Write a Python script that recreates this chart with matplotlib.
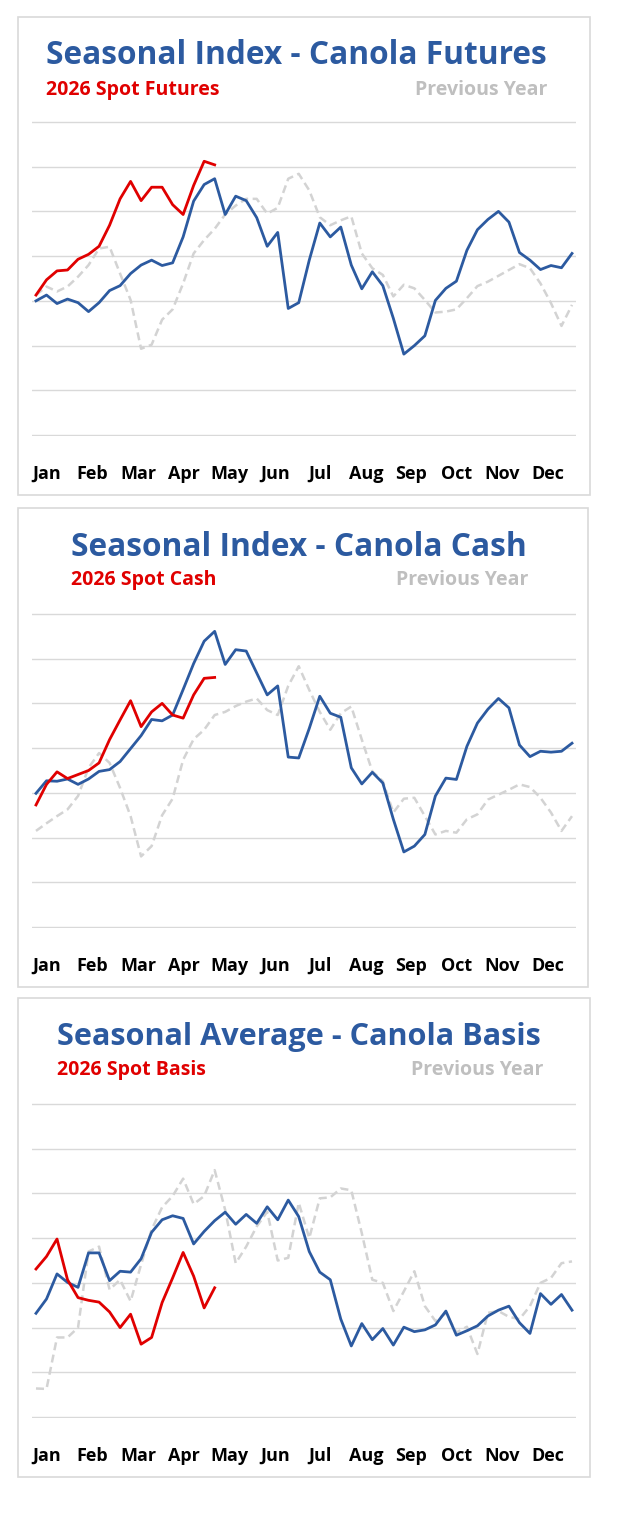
import numpy as np
import matplotlib
matplotlib.use("Agg")
import matplotlib.pyplot as plt
from matplotlib.patches import Rectangle

plt.rcParams['font.family'] = ['Open Sans', 'DejaVu Sans']

months = ['Jan', 'Feb', 'Mar', 'Apr', 'May', 'Jun', 'Jul', 'Aug', 'Sep', 'Oct', 'Nov', 'Dec']

# weekly values, in gridline units (bottom gridline = 0, top = 7)
fut_avg = [3.00, 3.13, 2.94, 3.04, 2.96, 2.76, 2.96, 3.23, 3.34, 3.61, 3.80, 3.91, 3.79,
           3.85, 4.43, 5.23, 5.60, 5.73, 4.93, 5.34, 5.24, 4.86, 4.22, 4.53, 2.83, 2.96,
           3.91, 4.74, 4.43, 4.65, 3.80, 3.27, 3.65, 3.34, 2.61, 1.81, 2.00, 2.22, 3.01,
           3.28, 3.44, 4.13, 4.59, 4.82, 5.00, 4.76, 4.08, 3.91, 3.70, 3.79, 3.74, 4.06]
fut_spot = [3.13, 3.47, 3.67, 3.69, 3.93, 4.04, 4.22, 4.69, 5.28, 5.67, 5.24, 5.54, 5.54,
            5.15, 4.93, 5.58, 6.12, 6.04]
fut_prev = [3.13, 3.32, 3.21, 3.32, 3.54, 3.80, 4.17, 4.21, 3.61, 3.02, 1.93, 2.02, 2.58,
            2.81, 3.39, 4.06, 4.36, 4.61, 4.93, 5.13, 5.28, 5.28, 4.95, 5.08, 5.73, 5.84,
            5.47, 4.87, 4.69, 4.80, 4.89, 4.06, 3.73, 3.58, 3.10, 3.36, 3.28, 3.02, 2.74,
            2.76, 2.81, 3.06, 3.33, 3.43, 3.56, 3.69, 3.82, 3.73, 3.39, 2.95, 2.44, 2.91]

cash_avg = [2.99, 3.27, 3.26, 3.31, 3.19, 3.31, 3.48, 3.52, 3.70, 3.99, 4.28, 4.64, 4.61,
            4.74, 5.31, 5.89, 6.39, 6.61, 5.87, 6.20, 6.17, 5.68, 5.19, 5.39, 3.80, 3.78,
            4.44, 5.16, 4.78, 4.69, 3.56, 3.20, 3.46, 3.22, 2.41, 1.68, 1.81, 2.07, 2.93,
            3.33, 3.30, 4.04, 4.56, 4.87, 5.11, 4.90, 4.07, 3.81, 3.93, 3.91, 3.93, 4.11]
cash_spot = [2.73, 3.19, 3.47, 3.32, 3.41, 3.50, 3.67, 4.19, 4.63, 5.06, 4.48, 4.81, 5.00,
             4.74, 4.67, 5.19, 5.56, 5.58]
cash_prev = [2.15, 2.32, 2.48, 2.63, 2.93, 3.56, 3.89, 3.67, 3.11, 2.48, 1.58, 1.81, 2.50,
             2.87, 3.74, 4.20, 4.41, 4.74, 4.81, 4.94, 5.04, 5.11, 4.85, 4.74, 5.39, 5.83,
             5.30, 4.81, 4.41, 4.78, 4.93, 4.19, 3.48, 3.26, 2.56, 2.87, 2.89, 2.48, 2.07,
             2.15, 2.11, 2.41, 2.52, 2.85, 2.96, 3.07, 3.19, 3.13, 2.89, 2.56, 2.15, 2.48]

basis_avg = [2.32, 2.64, 3.20, 3.01, 2.90, 3.67, 3.67, 3.05, 3.26, 3.24, 3.54, 4.13, 4.41,
             4.50, 4.44, 3.87, 4.15, 4.39, 4.58, 4.31, 4.53, 4.33, 4.70, 4.41, 4.85, 4.48,
             3.70, 3.24, 3.07, 2.19, 1.59, 2.09, 1.73, 1.98, 1.61, 2.01, 1.91, 1.95, 2.06,
             2.37, 1.83, 1.93, 2.04, 2.26, 2.39, 2.48, 2.11, 1.87, 2.76, 2.52, 2.74, 2.39]
basis_spot = [3.31, 3.59, 3.98, 3.07, 2.67, 2.61, 2.57, 2.35, 2.00, 2.30, 1.63, 1.78, 2.56,
              3.11, 3.68, 3.15, 2.44, 2.89]
basis_prev = [0.64, 0.63, 1.78, 1.78, 2.00, 3.70, 3.81, 2.85, 3.07, 2.59, 3.41, 4.19, 4.69,
              4.94, 5.33, 4.76, 4.94, 5.52, 4.63, 3.44, 3.81, 4.26, 4.59, 3.50, 3.56, 4.79,
              4.00, 4.89, 4.91, 5.11, 5.07, 4.11, 3.07, 3.00, 2.37, 2.81, 3.26, 2.48, 2.15,
              2.32, 1.89, 2.02, 1.41, 2.33, 2.37, 2.24, 2.19, 2.48, 3.00, 3.11, 3.44, 3.48]

panels = [
    ("Seasonal Index - Canola Futures", "2026 Spot Futures", fut_avg, fut_spot, fut_prev),
    ("Seasonal Index - Canola Cash", "2026 Spot Cash", cash_avg, cash_spot, cash_prev),
    ("Seasonal Average - Canola Basis", "2026 Spot Basis", basis_avg, basis_spot, basis_prev),
]

# layout in pixels: box (x0, y0, x1, y1), grid top, title x, title right, title y, sub y, title size
layout = [
    ((18, 17, 590, 495), 121, 46, 547, 56, 90, 22.8),
    ((18, 508, 588, 987), 613, 71, 528, 547, 580, 22.8),
    ((18, 998, 590, 1477), 1103, 57, 543, 1037, 1070, 22.1),
]

W, H = 618, 1516
BLUE = '#2c5aa0'
RED = '#e00000'
GREY = '#d3d3d3'

fig = plt.figure(figsize=(W / 100, H / 100), dpi=100)

for (title, sub, avg, spot, prev), (box, gtop, tx, tr, ty, sy, tsize) in zip(panels, layout):
    x0, y0, x1, y1 = box
    fig.patches.append(Rectangle((x0 / W, 1 - y1 / H), (x1 - x0) / W, (y1 - y0) / H,
                                 transform=fig.transFigure, facecolor='white',
                                 edgecolor='#d9d9d9', linewidth=1.2, zorder=-5))
    ax = fig.add_axes([32 / W, 1 - (gtop + 315) / H, 544 / W, 315 / H])
    ax.set_zorder(2)
    ax.set_facecolor('none')
    weeks = np.arange(len(avg))
    ax.plot(weeks, prev, color=GREY, lw=1.8, ls=(0, (3.2, 1.8)), zorder=2)
    ax.plot(weeks, avg, color=BLUE, lw=2.0, zorder=3)
    ax.plot(np.arange(len(spot)), spot, color=RED, lw=2.0, zorder=4)
    ax.set_xlim(-0.38, 51.38)
    ax.set_ylim(-0.02, 7.02)
    ax.set_yticks(range(8))
    ax.yaxis.grid(True, color='#d9d9d9', lw=1.0)
    ax.set_axisbelow(True)
    ax.tick_params(axis='y', left=False, labelleft=False)
    ax.set_xticks([1.05 + i * 52 / 12 for i in range(12)])
    ax.set_xticklabels(months, fontsize=13, fontweight='bold', color='black')
    ax.tick_params(axis='x', length=0, pad=21)
    for s in ax.spines.values():
        s.set_visible(False)

    fig.text(tx / W, 1 - ty / H, title, color=BLUE, fontsize=tsize, fontweight='bold',
             ha='left', va='center', zorder=3)
    fig.text(tx / W, 1 - sy / H, sub, color=RED, fontsize=14, fontweight='bold',
             ha='left', va='center', zorder=3)
    fig.text(tr / W, 1 - sy / H, "Previous Year", color='#bfbfbf', fontsize=14,
             fontweight='bold', ha='right', va='center', zorder=3)

fig.savefig('out.png', dpi=100, facecolor='white')
